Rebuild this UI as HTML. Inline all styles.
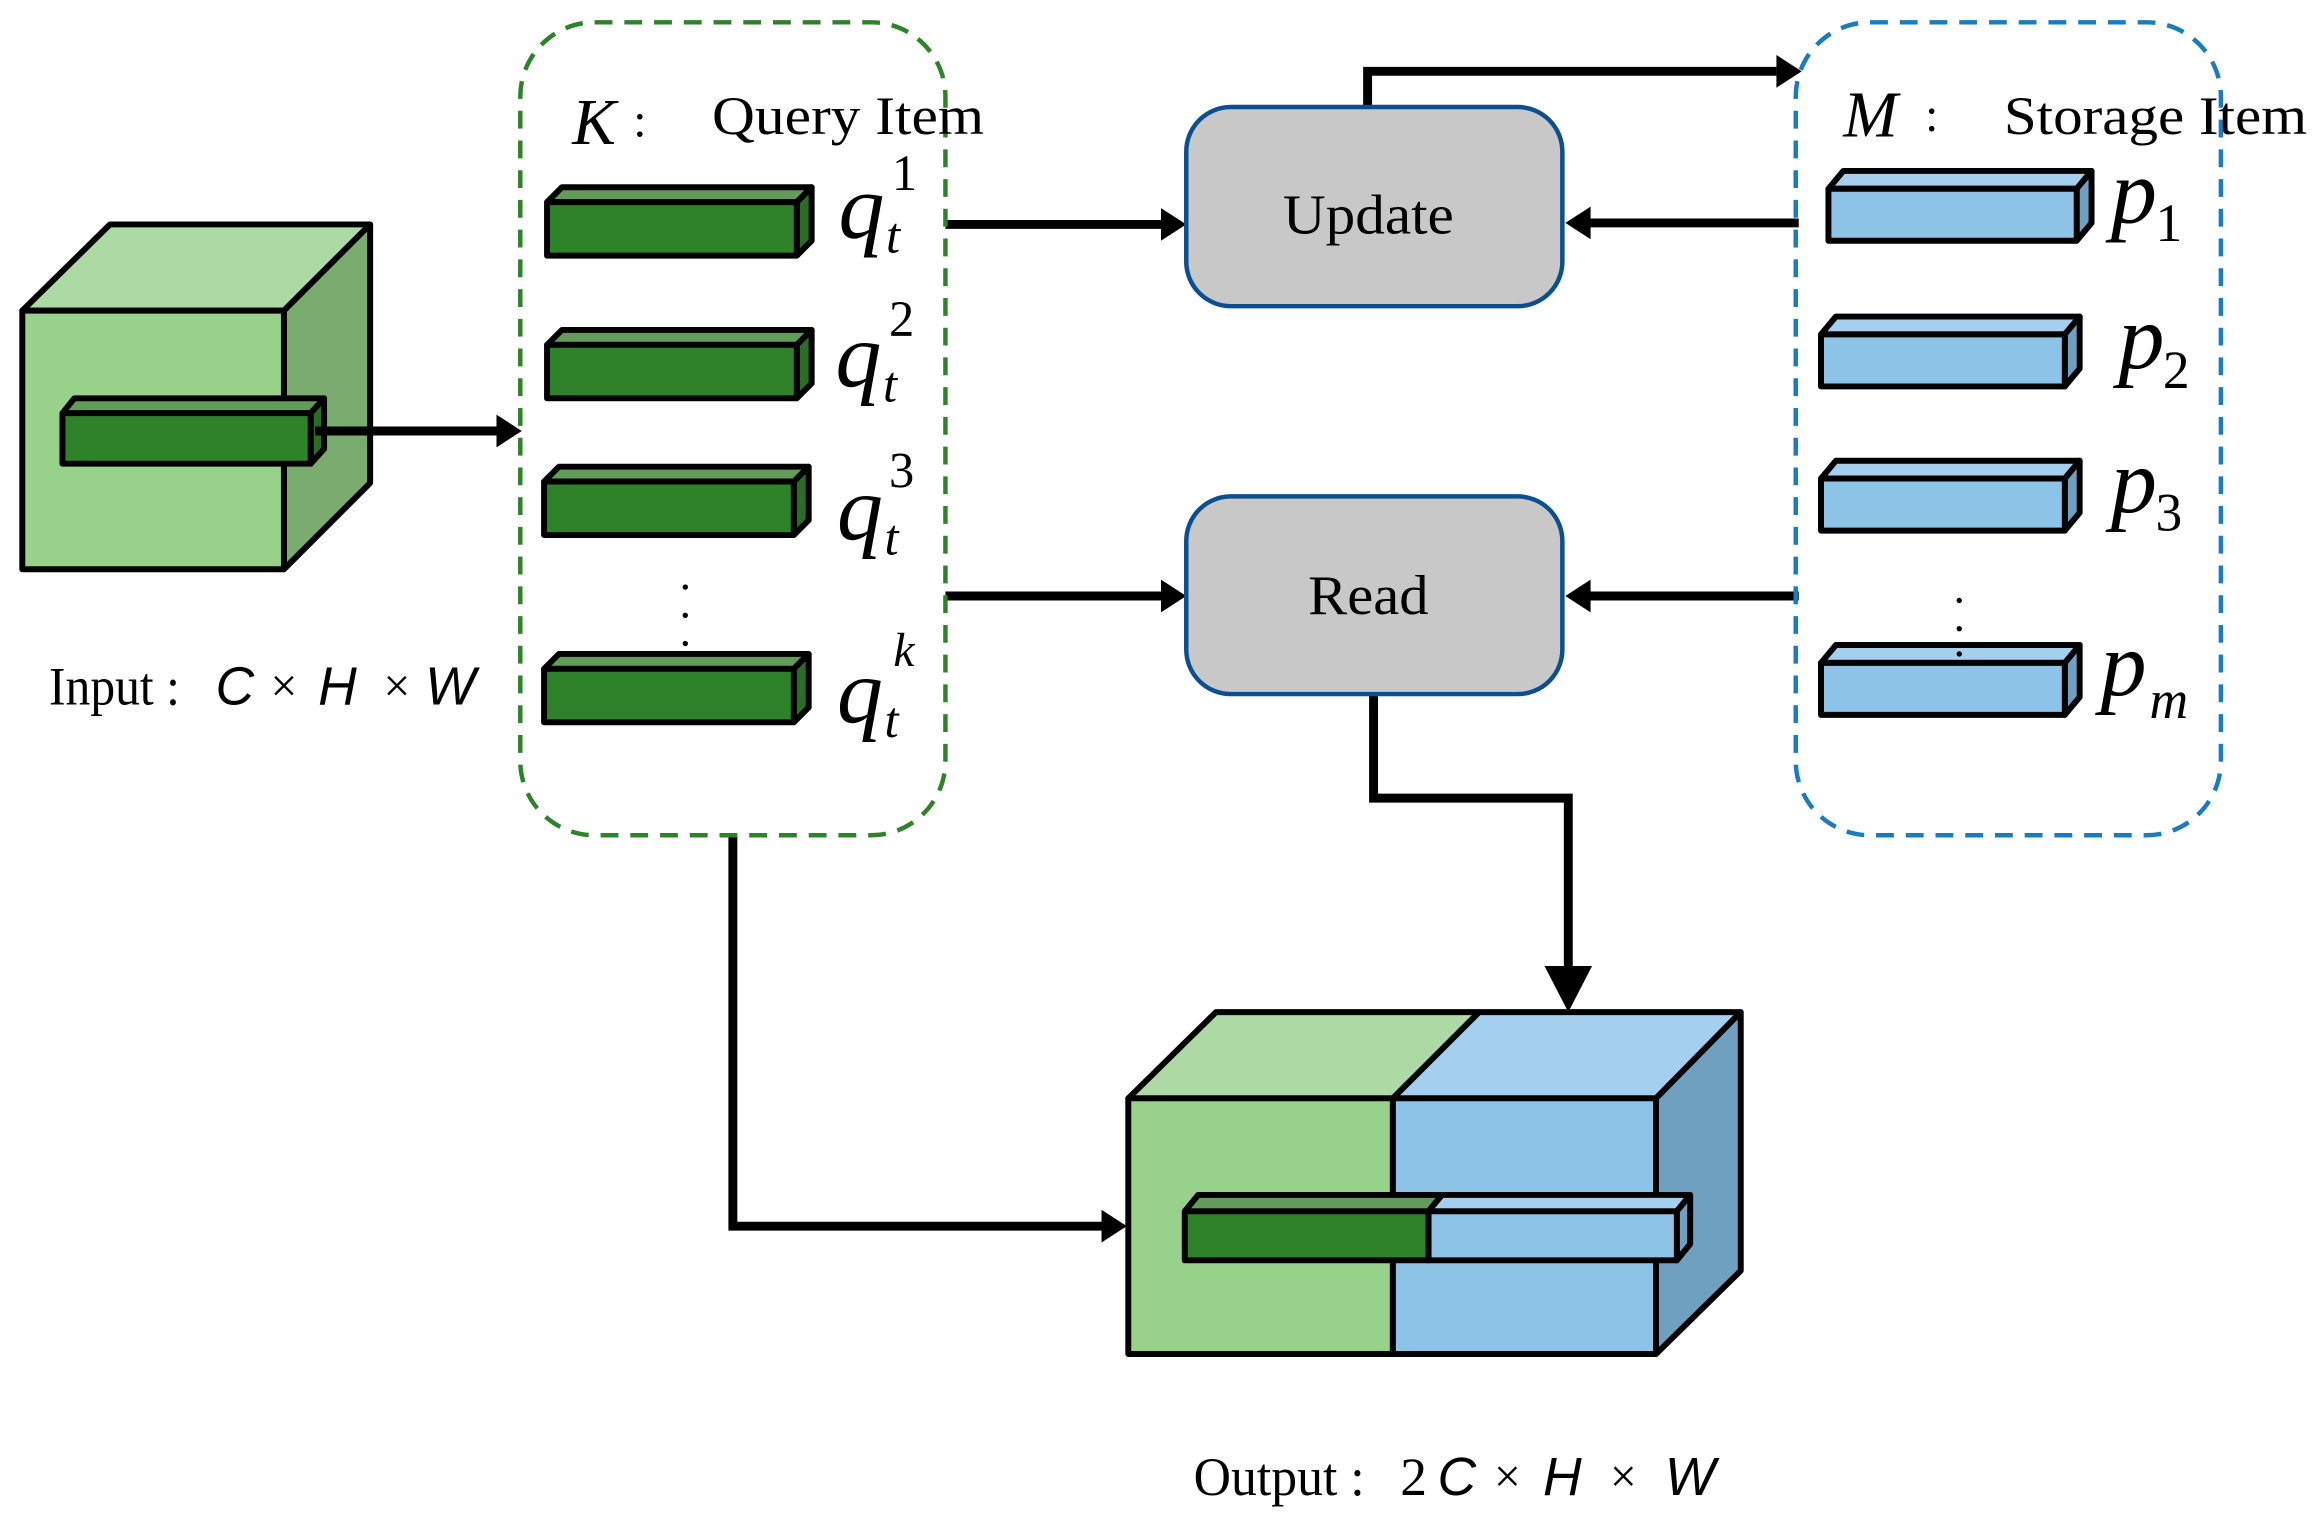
<!DOCTYPE html>
<html><head><meta charset="utf-8"><style>
html,body{margin:0;padding:0;background:#fff;}
svg{display:block;}
text{font-family:"Liberation Serif",serif;fill:#000;}
.it{font-style:italic;}
.sans{font-family:"Liberation Sans",sans-serif;font-style:italic;}
</style></head><body>
<svg width="2319" height="1513" viewBox="0 0 1560 1018" preserveAspectRatio="none" xmlns="http://www.w3.org/2000/svg">
<g stroke="#000" stroke-width="4" stroke-linejoin="round">
<!-- input cube -->
<polygon points="15,209 74,151 249,151 191,209" fill="#addaa4"/>
<polygon points="191,209 249,151 249,325 191,383" fill="#7aac70"/>
<rect x="15" y="209" width="176" height="174" fill="#98d28a"/>
<polygon points="42,278 50,268 218,268 209,278" fill="#639c5a"/>
<polygon points="209,278 218,268 218,302 209,312" fill="#2a6e25"/>
<rect x="42" y="278" width="167" height="34" fill="#2e8229"/>
</g>
<!-- arrows -->
<g stroke="#000" stroke-width="6" fill="none">
<line x1="212" y1="290" x2="334" y2="290"/>
<line x1="636" y1="151" x2="782" y2="151"/>
<line x1="636" y1="401" x2="782" y2="401"/>
<line x1="1210" y1="150" x2="1068" y2="150"/>
<line x1="1210" y1="401" x2="1068" y2="401"/>
<polyline points="920,72 920,48 1195,48"/>
<polyline points="924,467 924,537 1055,537 1055,655"/>
<polyline points="493,562 493,825 742,825"/>
</g>
<g fill="#000">
<polygon points="334,279 351,290 334,301"/>
<polygon points="781,140 798,151 781,162"/>
<polygon points="781,390 798,401 781,412"/>
<polygon points="1070,139 1053,150 1070,161"/>
<polygon points="1070,390 1053,401 1070,412"/>
<polygon points="1195,37 1212,48 1195,59"/>
<polygon points="1039,650 1071,650 1055,681"/>
<polygon points="741,814 758,825 741,836"/>
</g>
<!-- dashed boxes -->
<rect x="350" y="15" width="286" height="547" rx="50" fill="none" stroke="#2e8229" stroke-width="3" stroke-dasharray="12,8"/>
<rect x="1208" y="15" width="286" height="547" rx="50" fill="none" stroke="#1a7bbf" stroke-width="3" stroke-dasharray="12,8"/>
<!-- Update / Read -->
<rect x="798" y="72" width="253" height="134" rx="30" fill="#c8c8c8" stroke="#0b4f8e" stroke-width="3"/>
<rect x="798" y="334" width="253" height="133" rx="30" fill="#c8c8c8" stroke="#0b4f8e" stroke-width="3"/>
<text x="863" y="157" font-size="38" textLength="115" lengthAdjust="spacingAndGlyphs">Update</text>
<text x="880" y="413" font-size="38" textLength="81" lengthAdjust="spacingAndGlyphs">Read</text>
<!-- green bars -->
<g stroke="#000" stroke-width="4" stroke-linejoin="round">
<g transform="translate(368,136)"><polygon points="0,0 10,-10 178,-10 168,0" fill="#639c5a"/><polygon points="168,0 178,-10 178,26 168,36" fill="#2a6e25"/><rect x="0" y="0" width="168" height="36" fill="#2e8229"/></g>
<g transform="translate(368,232)"><polygon points="0,0 10,-10 178,-10 168,0" fill="#639c5a"/><polygon points="168,0 178,-10 178,26 168,36" fill="#2a6e25"/><rect x="0" y="0" width="168" height="36" fill="#2e8229"/></g>
<g transform="translate(366,324)"><polygon points="0,0 10,-10 178,-10 168,0" fill="#639c5a"/><polygon points="168,0 178,-10 178,26 168,36" fill="#2a6e25"/><rect x="0" y="0" width="168" height="36" fill="#2e8229"/></g>
<g transform="translate(366,450)"><polygon points="0,0 10,-10 178,-10 168,0" fill="#639c5a"/><polygon points="168,0 178,-10 178,26 168,36" fill="#2a6e25"/><rect x="0" y="0" width="168" height="36" fill="#2e8229"/></g>
<!-- blue bars -->
<g transform="translate(1230,127)"><polygon points="0,0 10,-12 177,-12 167,0" fill="#a5cfee"/><polygon points="167,0 177,-12 177,23 167,35" fill="#70a0c0"/><rect x="0" y="0" width="167" height="35" fill="#8cc3e6"/></g>
<g transform="translate(1225,225)"><polygon points="0,0 10,-12 174,-12 164,0" fill="#a5cfee"/><polygon points="164,0 174,-12 174,23 164,35" fill="#70a0c0"/><rect x="0" y="0" width="164" height="35" fill="#8cc3e6"/></g>
<g transform="translate(1225,322)"><polygon points="0,0 10,-12 174,-12 164,0" fill="#a5cfee"/><polygon points="164,0 174,-12 174,23 164,35" fill="#70a0c0"/><rect x="0" y="0" width="164" height="35" fill="#8cc3e6"/></g>
<g transform="translate(1225,446)"><polygon points="0,0 10,-12 174,-12 164,0" fill="#a5cfee"/><polygon points="164,0 174,-12 174,23 164,35" fill="#70a0c0"/><rect x="0" y="0" width="164" height="35" fill="#8cc3e6"/></g>
<!-- output cube -->
<polygon points="759,739 818,681 995,681 937,739" fill="#addaa4"/>
<polygon points="937,739 995,681 1171,681 1114,739" fill="#a5cfee"/>
<polygon points="1114,739 1171,681 1171,855 1114,911" fill="#70a0c0"/>
<rect x="759" y="739" width="178" height="172" fill="#98d28a"/>
<rect x="937" y="739" width="177" height="172" fill="#8cc3e6"/>
<polygon points="797,815 806,804 970,804 961,815" fill="#639c5a"/>
<polygon points="961,815 970,804 1137,804 1128,815" fill="#a5cfee"/>
<polygon points="1128,815 1137,804 1137,837 1128,848" fill="#70a0c0"/>
<rect x="797" y="815" width="164" height="33" fill="#2e8229"/>
<rect x="961" y="815" width="167" height="33" fill="#8cc3e6"/>
</g>
<!-- dots -->
<g fill="#000">
<circle cx="461" cy="395" r="1.8"/><circle cx="461" cy="414" r="1.8"/><circle cx="461" cy="433" r="1.8"/>
<circle cx="1318" cy="404" r="1.8"/><circle cx="1318" cy="423" r="1.8"/><circle cx="1318" cy="440" r="1.8"/>
</g>
<!-- labels -->
<text x="385" y="97" font-size="44" class="it">K</text>
<text x="426" y="92" font-size="32">:</text>
<text x="479" y="90" font-size="36" textLength="183" lengthAdjust="spacingAndGlyphs">Query Item</text>
<text x="1240" y="92" font-size="44" class="it">M</text>
<text x="1295" y="88" font-size="32">:</text>
<text x="1348" y="90" font-size="36" textLength="204" lengthAdjust="spacingAndGlyphs">Storage Item</text>
<g font-size="62" class="it">
<text x="564" y="160">q</text><text x="596" y="170" font-size="34">t</text><text x="600" y="128" font-size="34" font-style="normal">1</text>
<text x="562" y="260">q</text><text x="594" y="270" font-size="34">t</text><text x="598" y="226" font-size="34" font-style="normal">2</text>
<text x="563" y="363">q</text><text x="595" y="373" font-size="34">t</text><text x="598" y="328" font-size="34" font-style="normal">3</text>
<text x="563" y="486">q</text><text x="595" y="496" font-size="34">t</text><text x="601" y="448" font-size="32">k</text>
<text x="1420" y="150">p</text><text x="1450" y="162" font-size="36" font-style="normal">1</text>
<text x="1425" y="248">p</text><text x="1455" y="261" font-size="36" font-style="normal">2</text>
<text x="1420" y="345">p</text><text x="1450" y="357" font-size="36" font-style="normal">3</text>
<text x="1413" y="468">p</text><text x="1446" y="483" font-size="36">m</text>
</g>
<text x="33" y="474" font-size="36" textLength="88" lengthAdjust="spacingAndGlyphs">Input :</text>
<text x="145" y="474" font-size="36" class="sans">C</text>
<text x="182" y="472" font-size="32" font-family="Liberation Sans">×</text>
<text x="214" y="474" font-size="36" class="sans">H</text>
<text x="258" y="472" font-size="32" font-family="Liberation Sans">×</text>
<text x="286" y="474" font-size="36" class="sans">W</text>
<text x="803" y="1006" font-size="36" textLength="115" lengthAdjust="spacingAndGlyphs">Output :</text>
<text x="942" y="1006" font-size="36" font-family="Liberation Sans">2</text>
<text x="967" y="1006" font-size="36" class="sans">C</text>
<text x="1005" y="1004" font-size="32" font-family="Liberation Sans">×</text>
<text x="1038" y="1006" font-size="36" class="sans">H</text>
<text x="1083" y="1004" font-size="32" font-family="Liberation Sans">×</text>
<text x="1120" y="1006" font-size="36" class="sans">W</text>
</svg>
</body></html>
